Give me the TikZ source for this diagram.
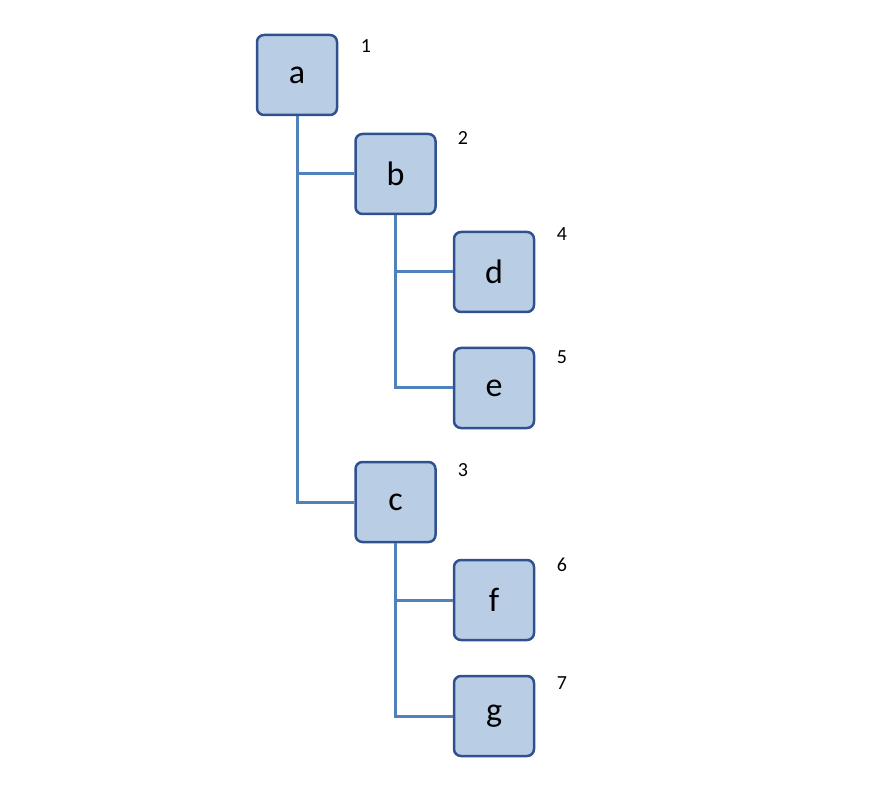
\documentclass[tikz,border=0pt]{standalone}
\usepackage{fontspec}
\setmainfont{Carlito}
\definecolor{boxfill}{HTML}{B9CDE5}
\definecolor{boxline}{HTML}{2F528F}
\definecolor{conn}{HTML}{4F81BD}
\begin{document}
\begin{tikzpicture}[x=1pt,y=-1pt,
  tbox/.style={draw=boxline,line width=2.5pt,fill=boxfill,rounded corners=7pt,minimum width=80pt,minimum height=80pt,inner sep=0pt,font=\fontsize{34}{34}\selectfont},
  num/.style={font=\fontsize{20}{20}\selectfont,anchor=center},
  link/.style={draw=conn,line width=3pt}]
\useasboundingbox (0,0) rectangle (892,810);
\node[tbox] (a) at (297,75) {a};
\node[tbox] (b) at (395.5,174) {b};
\node[tbox] (d) at (494,272) {d};
\node[tbox] (e) at (494,388) {e};
\node[tbox] (c) at (395.5,502) {c};
\node[tbox] (f) at (494,600) {f};
\node[tbox] (g) at (494,716) {g};
\node[num] at (366,46) {1};
\node[num] at (463,138) {2};
\node[num] at (463,470) {3};
\node[num] at (562,234) {4};
\node[num] at (562,357) {5};
\node[num] at (562,565) {6};
\node[num] at (562,683) {7};
\begin{scope}[on background layer/.style={}]
\end{scope}
\draw[link] (a.south) -- (a.south |- c.west) -- (c.west);
\draw[link] (a.south |- b.west) -- (b.west);
\draw[link] (b.south) -- (b.south |- e.west) -- (e.west);
\draw[link] (b.south |- d.west) -- (d.west);
\draw[link] (c.south) -- (c.south |- g.west) -- (g.west);
\draw[link] (c.south |- f.west) -- (f.west);
\end{tikzpicture}
\end{document}
